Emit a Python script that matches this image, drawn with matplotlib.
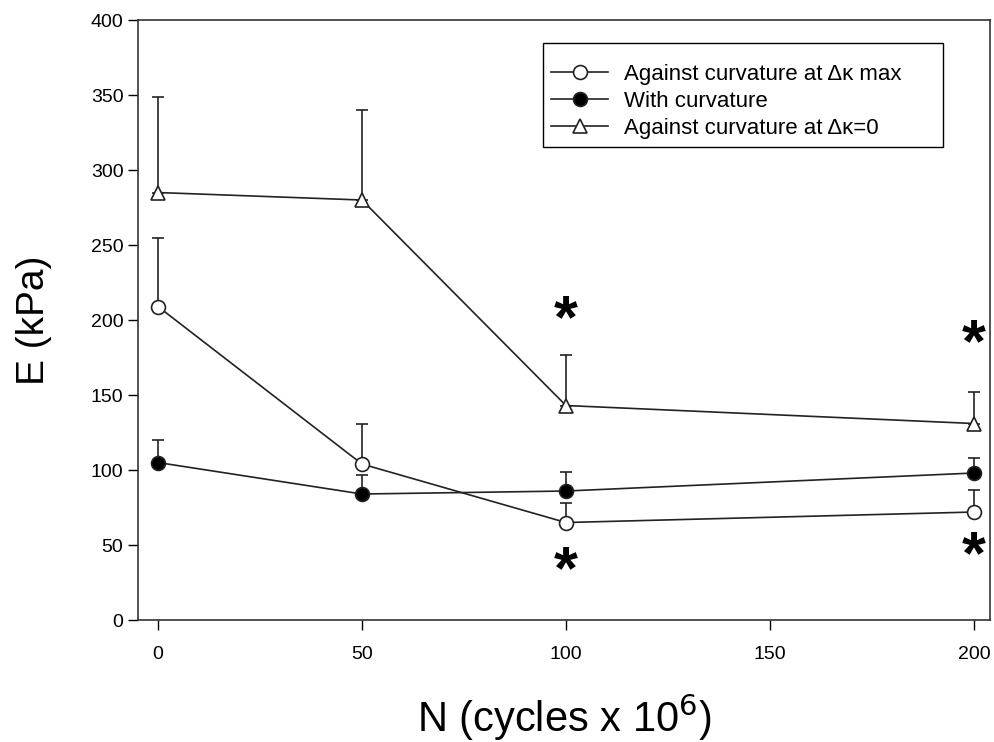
import matplotlib
matplotlib.use("Agg")
import matplotlib.pyplot as plt
import numpy as np

plt.rcParams['font.family'] = ['Liberation Sans', 'DejaVu Sans']

cycles = [0, 50, 100, 200]
against_max = [209, 104, 65, 72]
against_max_err = [46, 27, 13, 15]
with_curv = [105, 84, 86, 98]
with_curv_err = [15, 13, 13, 10]
against_zero = [285, 280, 143, 131]
against_zero_err = [64, 60, 34, 21]

star_x = [100, 100, 200, 200]
star_y = [208, 41, 192, 51]

labels = ["Against curvature at \u0394\u03ba max", "With curvature", "Against curvature at \u0394\u03ba=0"]

fig = plt.figure(figsize=(9.94, 7.42), dpi=100)
ax = fig.add_axes([0.1388, 0.1644, 0.857, 0.8086])

lc = '#222222'
def series(y, e, marker, mfc, label):
    z = np.zeros(len(e))
    ax.errorbar(cycles, y, yerr=[z, e], fmt='none', ecolor=lc, elinewidth=1.2, capsize=4, capthick=1.2, zorder=2)
    ax.plot(cycles, y, color=lc, lw=1.2, marker=marker, markersize=10, markerfacecolor=mfc,
            markeredgecolor=lc, markeredgewidth=1.2, label=label, zorder=3)

series(against_max, against_max_err, 'o', 'white', labels[0])
series(with_curv, with_curv_err, 'o', 'black', labels[1])
series(against_zero, against_zero_err, '^', 'white', labels[2])

for x, y in zip(star_x, star_y):
    ax.annotate('*', (x, y), xytext=(0, -10), textcoords='offset points', fontsize=44,
                ha='center', va='center', fontweight='bold', color='black')

ax.set_xlim(-4.9, 203.9)
ax.set_ylim(0, 400)
ax.set_xticks([0, 50, 100, 150, 200])
ax.set_yticks(np.arange(0, 401, 50))
ax.tick_params(direction='out', length=7, width=1, labelsize=14, top=False, right=False)
ax.tick_params(axis='x', pad=12)
for s in ax.spines.values():
    s.set_linewidth(1.2)
    s.set_color('#333333')

ax.set_xlabel('N (cycles x 10$^6$)', fontsize=30, labelpad=20)
ax.set_ylabel('E (kPa)', fontsize=28, labelpad=28)

leg = ax.legend(loc='upper left', bbox_to_anchor=(0.4754, 0.0, 0.4695, 0.962), mode='expand',
                fontsize=16, frameon=True, fancybox=False,
                edgecolor='black', handlelength=2.6, handletextpad=0.7, borderpad=0.35,
                labelspacing=0.28, framealpha=1, borderaxespad=0, title=' ', title_fontsize=6)
leg.get_frame().set_linewidth(1.0)

fig.savefig('out.png', dpi=100)
